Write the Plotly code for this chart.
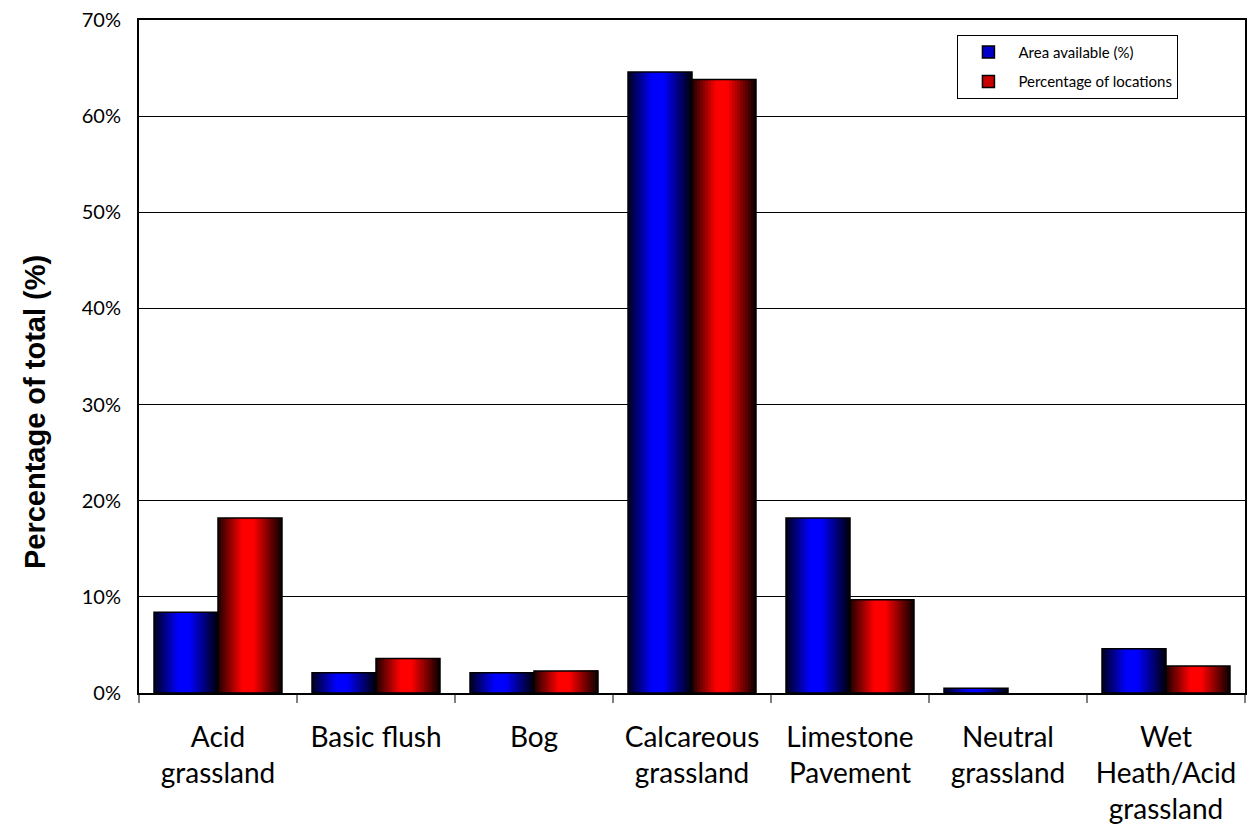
import plotly.graph_objects as go

categories = ["Acid<br>grassland", "Basic flush", "Bog", "Calcareous<br>grassland",
              "Limestone<br>Pavement", "Neutral<br>grassland", "Wet<br>Heath/Acid<br>grassland"]
area_available = [8.4, 2.1, 2.1, 64.6, 18.2, 0.5, 4.6]
pct_locations = [18.2, 3.6, 2.3, 63.8, 9.7, 0.0, 2.8]
series_names = ["Area available (%)", "Percentage of locations"]
y_ticks = [0, 10, 20, 30, 40, 50, 60, 70]
y_tick_labels = ["0%", "10%", "20%", "30%", "40%", "50%", "60%", "70%"]
y_title = "Percentage of total (%)"

# styling
bar_w = 0.405
n_strips = 24
stops = [(0.0, 0.12), (0.38, 1.0), (0.55, 1.0), (1.0, 0.03)]


def intensity(t):
    for (t0, v0), (t1, v1) in zip(stops[:-1], stops[1:]):
        if t0 <= t <= t1:
            return v0 + (v1 - v0) * (t - t0) / (t1 - t0)
    return stops[-1][1]


fig = go.Figure()
series = [(area_available, -bar_w, "blue", "rgb(0,0,200)"),
          (pct_locations, 0.0, "red", "rgb(200,0,0)")]

for vals, base, col, legcol in series:
    shown = [v if v > 0 else None for v in vals]
    for k in range(n_strips):
        t = (k + 0.5) / n_strips
        v = int(round(255 * intensity(t)))
        c = f"rgb(0,0,{v})" if col == "blue" else f"rgb({v},0,0)"
        off = base + bar_w * k / n_strips
        fig.add_trace(go.Bar(x=categories, y=shown, offset=off, width=bar_w - bar_w * k / n_strips,
                             marker=dict(color=c, line=dict(width=0)),
                             showlegend=False, hoverinfo="skip"))
    fig.add_trace(go.Bar(x=categories, y=shown, offset=base, width=bar_w,
                         marker=dict(color="rgba(0,0,0,0)", line=dict(color="black", width=1.5)),
                         showlegend=False))

for i, ((vals, base, col, legcol), name) in enumerate(zip(series, series_names)):
    fig.add_trace(go.Bar(x=[categories[0]], y=[None], name=name, offset=base, width=bar_w,
                         legendgroup=f"g{i}",
                         marker=dict(color=legcol, line=dict(color="black", width=1.5))))

fig.add_annotation(text=f"<b>{y_title}</b>", xref="paper", yref="paper",
                   x=-0.094, y=0.4175, xanchor="center", yanchor="middle",
                   textangle=-90, showarrow=False,
                   font=dict(size=29, family="Liberation Sans", color="black"))

fig.update_layout(
    width=1260, height=828,
    barmode="overlay",
    plot_bgcolor="white", paper_bgcolor="white",
    margin=dict(l=131, r=23, t=12, b=143),
    font=dict(family="Lato", color="black"),
    showlegend=True,
    legend=dict(x=0.740, y=0.978, xanchor="left", yanchor="top",
                bordercolor="black", borderwidth=1, bgcolor="white",
                font=dict(size=15, family="Lato"), tracegroupgap=7, itemwidth=50),
    xaxis=dict(range=[-0.5, 6.5], showline=True, linecolor="black", linewidth=2,
               mirror=True, ticks="outside", tickson="boundaries", ticklen=8,
               tickcolor="gray", tickwidth=1.5, tickfont=dict(size=28, family="Lato"),
               showgrid=False, tickangle=0, automargin=False, ticklabelstandoff=18),
    yaxis=dict(range=[0, 70], tickvals=y_ticks, ticktext=y_tick_labels,
               showline=True, linecolor="black", linewidth=2, mirror=True,
               showgrid=True, gridcolor="black", gridwidth=1,
               tickfont=dict(size=20, family="Lato"), ticks="", automargin=False,
               ticklabelstandoff=12, ticklabeloverflow="allow",
               zeroline=False),
)

fig.write_html("out.html")
